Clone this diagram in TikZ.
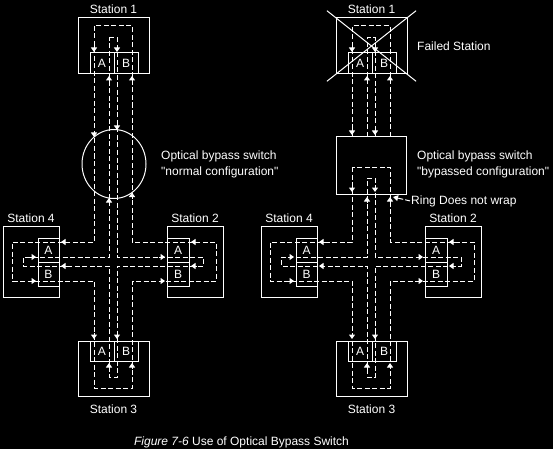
\documentclass[tikz,border=0pt]{standalone}
\usepackage{fontspec}
\setmainfont{Liberation Sans}[Ligatures=TeXOff]
\usetikzlibrary{positioning, arrows.meta}

\tikzset{
    stbox/.style={draw=white, line width=1pt, minimum width=71pt, minimum height=56pt, inner sep=0pt},
    cell/.style={draw=white, line width=1pt, inner sep=0pt, text=white, font=\fontsize{12}{14}\selectfont},
    lbl/.style={text=white, inner sep=0pt, font=\fontsize{12}{14}\selectfont},
    ring/.style={draw=white, line width=1pt, dash pattern=on 5pt off 2.5pt},
    flowtip/.style={white, line width=1pt, -{Triangle[width=6pt,length=4.5pt]}},
    wraptip/.style={white, line width=1pt, dash pattern=on 5pt off 2pt, -{Triangle[width=6pt,length=5pt]}}
}

% stations, rings and tips of one view; #1 name prefix, #2 outer top, #3 inner top
\newcommand{\ringview}[3]{%
    \node[stbox] (#1s1) at (113.5,46) {};
    \node[cell, minimum width=24pt, minimum height=21pt] (#1s1a) at (102,63.5) {A};
    \node[cell, minimum width=24pt, minimum height=21pt] (#1s1b) at (126,63.5) {B};
    \node[lbl, above=4pt of #1s1] (#1l1) {Station 1};
    \node[stbox, minimum width=56pt, minimum height=71pt] (#1s2) at (195,261.5) {};
    \node[cell, minimum width=22pt, minimum height=24pt] (#1s2a) at (178,250) {A};
    \node[cell, minimum width=22pt, minimum height=24pt] (#1s2b) at (178,274) {B};
    \node[lbl, above=3pt of #1s2] (#1l2) {Station 2};
    \node[stbox, minimum height=55pt] (#1s3) at (113.5,368.5) {};
    \node[cell, minimum width=24pt, minimum height=20pt] (#1s3a) at (102,351) {A};
    \node[cell, minimum width=24pt, minimum height=20pt] (#1s3b) at (126,351) {B};
    \node[lbl, below=8pt of #1s3] (#1l3) {Station 3};
    \node[stbox, minimum width=56pt, minimum height=71pt] (#1s4) at (31,261.5) {};
    \node[cell, minimum width=21pt, minimum height=24pt] (#1s4a) at (48.5,250) {A};
    \node[cell, minimum width=21pt, minimum height=24pt] (#1s4b) at (48.5,274) {B};
    \node[lbl, above=3pt of #1s4] (#1l4) {Station 4};
    % outer and inner ring
    \draw[ring] (94,#2) -- (94,242) -- (12,242) -- (12,281) -- (94,281) -- (94,388)
        -- (132,388) -- (132,281) -- (216,281) -- (216,242) -- (132,242) -- (132,#2) -- cycle;
    \draw[ring] (109,#3) -- (117,#3) -- (117,257) -- (203,257) -- (203,266) -- (117,266)
        -- (117,377) -- (109,377) -- (109,266) -- (23,266) -- (23,257) -- (109,257) -- cycle;
    \foreach \x in {94,117} {
        \draw[flowtip] (\x,46) -- (\x,52);
        \draw[flowtip] (\x,333) -- (\x,339);
    }
    \foreach \x in {109,132} {
        \draw[flowtip] (\x,82) -- (\x,76);
        \draw[flowtip] (\x,369) -- (\x,363);
    }
    \foreach \y in {242,266} {
        \draw[flowtip] (197,\y) -- (191,\y);
        \draw[flowtip] (67,\y) -- (61,\y);
    }
    \foreach \y in {257,281} {
        \draw[flowtip] (159,\y) -- (165,\y);
        \draw[flowtip] (30,\y) -- (36,\y);
    }
}

\begin{document}
\begin{tikzpicture}[x=1pt, y=-1pt]
\useasboundingbox (0,0) rectangle (553,449);
\fill[black] (0,0) rectangle (553,449);

% normal configuration
\ringview{l}{26}{38}
\draw[white, line width=1pt] (114,164) ellipse [x radius=32pt, y radius=34.5pt];
\draw[flowtip] (94,131) -- (94,137);
\draw[flowtip] (117,124) -- (117,130);
\draw[flowtip] (109,204) -- (109,198);
\draw[flowtip] (132,198.5) -- (132,192.5);
\node[lbl, anchor=base west] (lsw1) at (161,160) {Optical bypass switch};
\node[lbl, anchor=base west] (lsw2) at (161,175) {"normal configuration"};

% bypassed configuration
\begin{scope}[xshift=258pt]
\ringview{r}{167}{178}
\draw[white, line width=1pt, shorten <=-11pt, shorten >=-11pt] (rs1.north west) -- (rs1.south east);
\draw[white, line width=1pt, shorten <=-11pt, shorten >=-11pt] (rs1.north east) -- (rs1.south west);
\node[stbox, minimum width=70pt, minimum height=57pt] (rsw) at (113,165.5) {};
\draw[ring] (94,137) -- (94,26) -- (132,26) -- (132,137);
\draw[ring] (109,137) -- (109,38) -- (117,38) -- (117,137);
\foreach \x in {94,117} {
    \draw[flowtip] (\x,129) -- (\x,135);
    \draw[flowtip] (\x,186) -- (\x,192);
}
\foreach \x in {109,132} {
    \draw[flowtip] (\x,203) -- (\x,197);
}
\node[lbl, anchor=base west] (fail) at (159,51) {Failed Station};
\node[lbl, anchor=base west] (rsw1) at (159,160) {Optical bypass switch};
\node[lbl, anchor=base west] (rsw2) at (159,175) {"bypassed configuration"};
\node[lbl, anchor=base west] (wrap) at (153,204) {Ring Does not wrap};
\draw[wraptip] ([xshift=-1pt]wrap.west) -- (135,197);
\end{scope}

\node[lbl, anchor=base] (cap) at (241.5,445) {\textit{Figure 7-6} Use of Optical Bypass Switch};
\end{tikzpicture}
\end{document}
